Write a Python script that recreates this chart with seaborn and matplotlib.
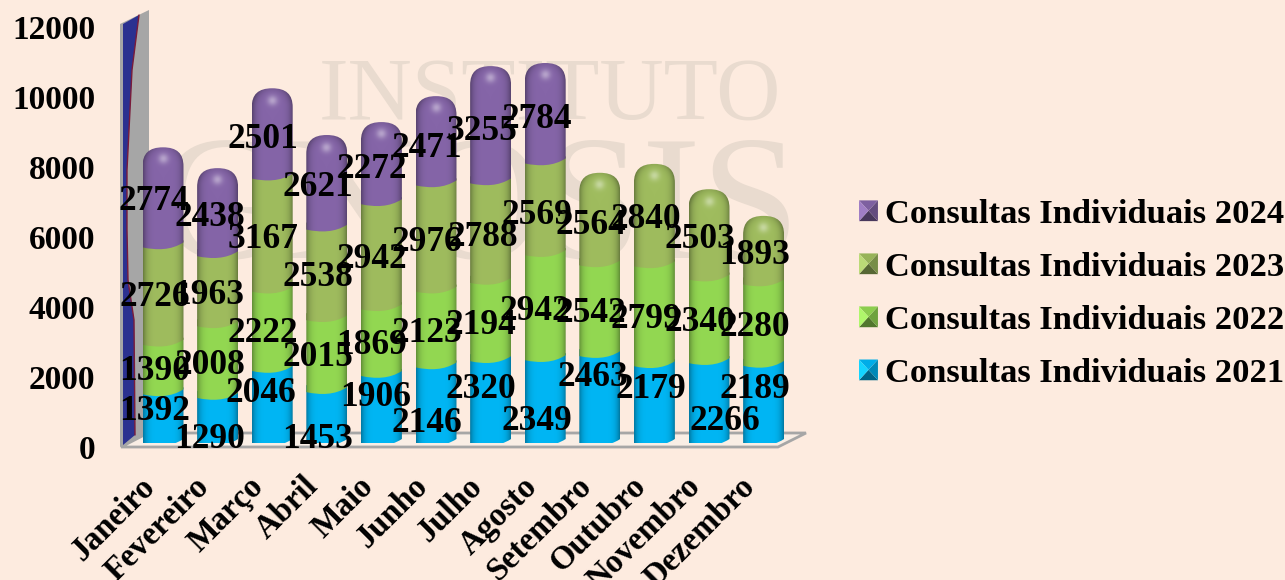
import numpy as np
import pandas as pd
import matplotlib
matplotlib.use('Agg')
import matplotlib.pyplot as plt
import matplotlib.colors as mcolors
from matplotlib.legend_handler import HandlerBase
from matplotlib.patches import PathPatch, Polygon, Patch
from matplotlib.path import Path
from matplotlib.transforms import ScaledTranslation
import seaborn as sns

# Dados
meses = ['Janeiro', 'Fevereiro', 'Março', 'Abril', 'Maio', 'Junho', 'Julho',
         'Agosto', 'Setembro', 'Outubro', 'Novembro', 'Dezembro']
c2021 = [1392, 1290, 2046, 1453, 1906, 2146, 2320, 2349, 2463, 2179, 2266, 2189]
c2022 = [1390, 2008, 2222, 2015, 1869, 2123, 2194, 2942, 2542, 2799, 2340, 2280]
c2023 = [2726, 1963, 3167, 2538, 2942, 2976, 2788, 2569, 2564, 2840, 2503, 1893]
c2024 = [2774, 2438, 2501, 2621, 2272, 2471, 3255, 2784, None, None, None, None]
series = [c2021, c2022, c2023, c2024]
nomes = ['Consultas Individuais 2021', 'Consultas Individuais 2022',
         'Consultas Individuais 2023', 'Consultas Individuais 2024']
y_ticks = [0, 2000, 4000, 6000, 8000, 10000, 12000]

cores = ['#00B6F4', '#93D852', '#9FBC5E', '#8565A8']
fundo = '#FDEBDF'
marca = '#E9DBCF'

# Posicao dos rotulos em pixels (no original eles estao soltos, nao seguem as barras)
lab_2021 = [(155, 412), (210, 439), (261, 394), (318, 440), (376, 398), (427, 423),
            (481, 389), (537, 422), (593, 377), (651, 389), (725, 422), (755, 389)]
lab_2022 = [(155, 372), (210, 365), (263, 334), (318, 358), (372, 346), (427, 333),
            (481, 326), (535, 311), (591, 313), (646, 319), (700, 323), (755, 328)]
lab_2023 = [(155, 298), (209, 296), (263, 240), (318, 278), (372, 260), (427, 242),
            (483, 238), (537, 215), (591, 225), (646, 220), (700, 240), (755, 256)]
lab_2024 = [(154, 202), (210, 217), (263, 140), (318, 188), (372, 169), (427, 148),
            (482, 132), (537, 120)]
labs = [lab_2021, lab_2022, lab_2023, lab_2024]

W, H = 1285, 580
PX_X = 54.6      # pixels por categoria
PX_Y = 0.0357    # pixels por consulta
X0, Y0 = 163, 443  # pixel do primeiro mes / da base das barras


def px(a, b):
    return a / W, 1 - b / H


sns.set_theme(style='white')
plt.rcParams['font.family'] = ['Liberation Serif', 'DejaVu Serif']
plt.rcParams['font.weight'] = 'bold'

fig = plt.figure(figsize=(W / 100, H / 100), dpi=100, facecolor=fundo)

# Fundo: marca d'agua, parede e chao
deco = fig.add_axes([0, 0, 1, 1], zorder=0)
deco.set_xlim(0, W)
deco.set_ylim(H, 0)
deco.axis('off')
deco.text(550, 97, 'INSTITUTO', family='Liberation Serif', weight='normal', fontsize=64,
          color=marca, ha='center', va='center')
deco.text(480, 215, 'GNOSIS', family='Liberation Serif', weight='normal', fontsize=128,
          color=marca, ha='center', va='center')
deco.add_patch(Polygon([(121, 447), (148, 433), (806, 433), (778, 447)], fc='#F9EEE5', ec='#A6A6A6', lw=2))
deco.add_patch(Polygon([(120, 24), (149, 10), (149, 433), (120, 447)], fc='#A6A6A6', ec='none'))
borda = [(139, 15), (132, 70), (130, 110), (127, 170), (127, 230), (128, 280), (134, 320), (135, 435)]
deco.add_patch(Polygon([(123, 24)] + borda + [(123, 445)], fc='#2B3190', ec='none'))
deco.plot(*zip(*borda), color='#7A1B3A', lw=1)

# Barras
ax_x0 = X0 - 0.5 * PX_X
ax_y1 = Y0 - 12000 * PX_Y
ax = fig.add_axes([ax_x0 / W, (H - Y0) / H, 12 * PX_X / W, (Y0 - ax_y1) / H], zorder=1)
ax.patch.set_visible(False)

acum = np.zeros(12)
bases = []
for valores, cor, nome in zip(series, cores, nomes):
    v = np.array(valores, dtype=float)
    base = acum.copy()
    acum = acum + v
    df = pd.DataFrame({'mes': meses, 'total': acum})
    sns.barplot(data=df, x='mes', y='total', color=cor, width=0.75, saturation=1, ax=ax, zorder=1)
    bases.append(base)


def forma(x0, x1, y0, y1, cupula):
    """Contorno do cilindro: base curva e, na ultima serie, topo arredondado."""
    w = x1 - x0
    xc = (x0 + x1) / 2
    dy = 1 / PX_Y
    vs = [(x0, y0 - dy), (x0 + .35 * w, y0 - 4 * dy), (x0 + .7 * w, y0 - 4 * dy), (x1, y0 + 4 * dy)]
    cs = [Path.MOVETO, Path.CURVE4, Path.CURVE4, Path.CURVE4]
    if cupula:
        lado = y1 - 19 * dy
        k = .68
        vs += [(x1, lado), (x1, lado + k * 19 * dy), (xc + k * w / 2, y1), (xc, y1),
               (xc - k * w / 2, y1), (x0, lado + k * 19 * dy), (x0, lado)]
        cs += [Path.LINETO] + [Path.CURVE4] * 6
    else:
        vs += [(x1, y1 + 6 * dy), (x0, y1 + 6 * dy)]
        cs += [Path.LINETO, Path.LINETO]
    vs.append(vs[0])
    cs.append(Path.CLOSEPOLY)
    return Path(vs, cs)


def sombra(x0, x1, ybot, ytop, y1, cupula, cor):
    """Imagem com o sombreado do cilindro (escuro nas bordas, brilho no topo)."""
    nx, ny = 80, max(int((ytop - ybot) * PX_Y), 4)
    u = np.linspace(-1, 1, nx)
    y = np.linspace(ybot, ytop, ny)
    uu, yy = np.meshgrid(u, y)
    rgb = np.array(mcolors.to_rgb(cor))
    if cupula:
        c = np.clip((yy - (y1 - 19 / PX_Y)) * PX_Y / 19, 0, 1) * .8
    else:
        c = 0
    r = np.clip(np.sqrt(uu ** 2 + c ** 2), 0, 1)
    f = 1 - .34 * r ** 5
    img = rgb[None, None, :] * f[:, :, None]
    if cupula:
        brilho = np.exp(-((uu * 20) ** 2 + ((y1 - yy) * PX_Y - 12) ** 2) / (2 * 3.5 ** 2)) * .4
        img = img + (1 - img) * brilho[:, :, None]
    return np.clip(img, 0, 1)


# Cada container do seaborn e uma serie
for s, cont in enumerate(ax.containers):
    for patch in cont:
        if not np.isfinite(patch.get_height()):
            continue
        i = int(round(patch.get_x() + patch.get_width() / 2))
        x0, x1 = patch.get_x(), patch.get_x() + patch.get_width()
        y1 = patch.get_height()
        y0 = bases[s][i]
        topo = s == len(series) - 1 or series[s + 1][i] is None
        caminho = forma(x0, x1, y0, y1, topo)
        ytop = y1 if topo else y1 + 6 / PX_Y
        ybot = y0 - 5 / PX_Y
        img = sombra(x0, x1, ybot, ytop, y1, topo, cores[s])
        clip = PathPatch(caminho, transform=ax.transData, fc='none', ec='none')
        patch.set_visible(False)
        im = ax.imshow(img, extent=(x0, x1, ybot, ytop), origin='lower', aspect='auto',
                       interpolation='bilinear', zorder=2 + s)
        im.set_clip_path(clip)

ax.set_xlim(-0.5, 11.5)
ax.set_ylim(0, 12000)
ax.set_xlabel('')
ax.set_ylabel('')
ax.set_yticks([])
ax.set_xticks(range(12))
ax.set_xticklabels(meses, rotation=45, ha='right', va='top', rotation_mode='anchor',
                   fontsize=23.5, fontweight='bold', color='black')
ax.tick_params(axis='x', length=0, pad=20)
desloc = ScaledTranslation(-24 / 100, 0, fig.dpi_scale_trans)
for t in ax.get_xticklabels():
    t.set_transform(t.get_transform() + desloc)
sns.despine(ax=ax, left=True, bottom=True)

# Eixo y: no original a escala dos rotulos nao coincide com a frente das barras
ax_y = fig.add_axes([122 / W, (H - 447) / H, 10 / W, 420 / H], zorder=1)
ax_y.patch.set_visible(False)
ax_y.set_ylim(0, 12000)
ax_y.set_xticks([])
ax_y.set_yticks(y_ticks)
ax_y.set_yticklabels(y_ticks, fontsize=24, fontweight='bold', color='black')
ax_y.tick_params(axis='y', length=0, pad=19)
sns.despine(ax=ax_y, left=True, bottom=True)

# Rotulos de dados
for valores, pos in zip(series, labs):
    for v, (a, b) in zip(valores, pos):
        x, y = px(a, b)
        fig.text(x, y, str(v), ha='center', va='center', fontsize=25.5, fontweight='bold',
                 color='black', zorder=5)


class Piramide(HandlerBase):
    # Marcador chanfrado da legenda
    def create_artists(self, legend, orig, xd, yd, width, height, fontsize, trans):
        c = np.array(mcolors.to_rgb(orig.get_facecolor()))
        a, b = -xd, -yd
        m = (a + width / 2, b + height / 2)
        cantos = [(a, b), (a + width, b), (a + width, b + height), (a, b + height)]
        tons = [c * .55, c * .75, c * .95, np.clip(c * 1.05 + .08, 0, 1)]
        return [Polygon([cantos[k], cantos[(k + 1) % 4], m], fc=tons[k], ec='none', transform=trans)
                for k in range(4)]


handles = [Patch(facecolor=c, label=n) for c, n in zip(cores[::-1], nomes[::-1])]
leg = fig.legend(handles=handles, loc='center left', bbox_to_anchor=(859 / W, 1 - 294 / H),
                 frameon=False, handler_map={Patch: Piramide()},
                 prop={'size': 24.8, 'weight': 'bold'}, handlelength=0.55, handleheight=0.55,
                 handletextpad=0.2, labelspacing=0.64, borderpad=0, borderaxespad=0,
                 labelcolor='black')

fig.savefig('out.png', dpi=100, facecolor=fundo)
